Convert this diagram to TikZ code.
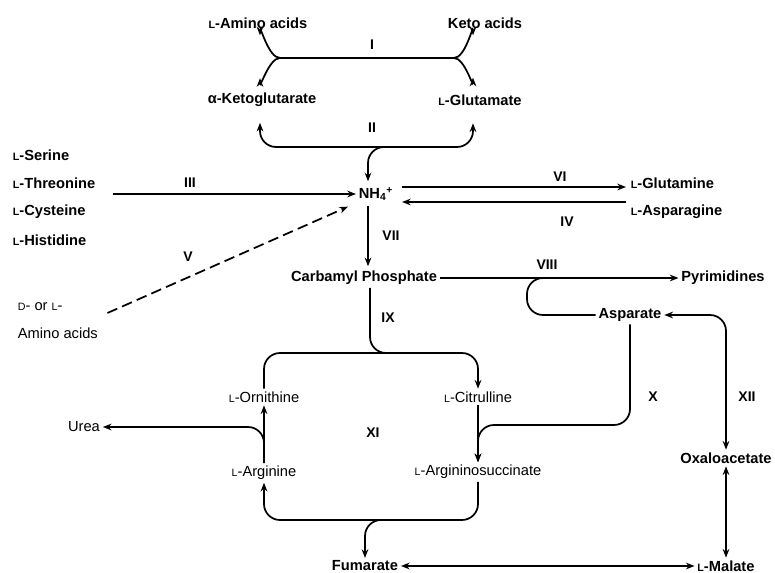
\documentclass[tikz,border=0pt]{standalone}
\usepackage{fontspec}
\setmainfont{Liberation Sans}
\usetikzlibrary{arrows.meta,calc}

\newcommand{\Ls}{{\fontsize{8}{8}\selectfont L}}
\newcommand{\Ds}{{\fontsize{8}{8}\selectfont D}}

\tikzset{
  cpd/.style={font=\bfseries\fontsize{11}{13}\selectfont, inner sep=2pt},
  cpdl/.style={font=\fontsize{11}{13}\selectfont, inner sep=2pt},
  enz/.style={font=\bfseries\fontsize{10.5}{12}\selectfont, inner sep=1pt},
  rxn/.style={line width=1.3pt},
  tip/.style={-{Stealth[length=6.5pt,width=5pt]}},
  tips/.style={{Stealth[length=6.5pt,width=5pt]}-{Stealth[length=6.5pt,width=5pt]}},
}

\begin{document}
\begin{tikzpicture}[x=0.75pt,y=0.75pt,yscale=-1,xscale=1]
\useasboundingbox (0,0) rectangle (775,573);

% Compounds
\node[cpd] (amino) at (258,23) {\Ls-Amino acids};
\node[cpd] (keto) at (485,23) {Keto acids};
\node[cpd] (akg) at (262,100) {α-Ketoglutarate};
\node[cpd] (glu) at (480,100) {\Ls-Glutamate};
\node[cpd,anchor=west] (ser) at (10,155) {\Ls-Serine};
\node[cpd,anchor=west] (thr) at (10,183) {\Ls-Threonine};
\node[cpd,anchor=west] (cys) at (10,212) {\Ls-Cysteine};
\node[cpd,anchor=west] (his) at (10,240) {\Ls-Histidine};
\node[cpd] (nh4) at (376,194) {NH\textsubscript{4}\textsuperscript{+}};
\node[cpd,anchor=west] (gln) at (628,183) {\Ls-Glutamine};
\node[cpd,anchor=west] (asn) at (628,212) {\Ls-Asparagine};
\node[cpd] (carb) at (364,278) {Carbamyl Phosphate};
\node[cpd] (pyr) at (723,278) {Pyrimidines};
\node[cpdl,anchor=west] (dl) at (15,307) {\Ds- or \Ls-};
\node[cpdl,anchor=west] (aa) at (15,333) {Amino acids};
\node[cpd] (asp) at (630,315) {Asparate};
\node[cpdl] (orn) at (264,397) {\Ls-Ornithine};
\node[cpdl] (cit) at (478,397) {\Ls-Citrulline};
\node[cpdl] (urea) at (84,427) {Urea};
\node[cpdl] (arg) at (264,473) {\Ls-Arginine};
\node[cpdl] (args) at (478,472) {\Ls-Argininosuccinate};
\node[cpd] (oxa) at (726,458) {Oxaloacetate};
\node[cpd] (fum) at (365,566) {Fumarate};
\node[cpd] (mal) at (726,566) {\Ls-Malate};

% Reaction numbers
\node[enz] (rI) at (372,45) {I};
\node[enz] (rII) at (372,128) {II};
\node[enz] (rIII) at (190,183) {III};
\node[enz] (rIV) at (567,222) {IV};
\node[enz] (rV) at (188,257) {V};
\node[enz] (rVI) at (560,177) {VI};
\node[enz] (rVII) at (391,236) {VII};
\node[enz] (rVIII) at (547,265) {VIII};
\node[enz] (rIX) at (388,318) {IX};
\node[enz] (rX) at (653,397) {X};
\node[enz] (rXI) at (373,433) {XI};
\node[enz] (rXII) at (747,397) {XII};

% Junctions
\coordinate (Iw) at (280,58);
\coordinate (Ie) at (454,58);
\coordinate (IIm) at (372,147);
\coordinate (ctop) at (370,353);
\coordinate (cbot) at (370,520);
\coordinate (xj) at (478,425);

% I
\draw[rxn,tips] ($(amino.south)+(2,4)$) to[out=-90,in=180] (Iw) -- (Ie) to[out=0,in=-90] ($(keto.south)+(-12,4)$);
\draw[rxn,tips] ($(akg.north)+(-2,-12)$) to[out=90,in=180] (Iw) -- (Ie) to[out=0,in=90] ($(glu.north)+(-7,-14)$);
% II
\draw[rxn,tips,rounded corners=12pt] ($(akg.south)+(-2,13)$) |- (IIm) -| ($(glu.south)+(-7,15)$);
\draw[rxn,tip,rounded corners=12pt] ($(IIm)+(16,0)$) -| ($(nh4.north)+(-8,-3)$);
% III, V
\draw[rxn,tip] ($(thr.east |- nh4.west)+(15,0)$) -- (nh4.west);
\draw[rxn,tip,dashed,dash pattern=on 8pt off 4pt] ($(dl.east)+(42,6)$) -- ($(nh4.south west)+(-8,3)$);
% VI, IV
\draw[rxn,tip] ($(nh4.east)+(6,-7)$) -- ($(gln.west)+(-2,4)$);
\draw[rxn,tip] ($(asn.west)+(-2,-10)$) -- ($(nh4.east)+(6,8)$);
% VII
\draw[rxn,tip] ($(nh4.south)+(-8,2)$) -- ($(nh4.south |- carb.north)+(-8,-2)$);
% VIII
\draw[rxn,tip] (carb.east) -- (pyr.west);
\draw[rxn,rounded corners=12pt] (asp.west) -| (527,278) -- (552,278);
% IX
\draw[rxn,rounded corners=12pt] ($(carb.south)+(6,0)$) |- ($(ctop)+(26,0)$);
\draw[rxn,tip,rounded corners=12pt] (orn.north) |- (ctop) -| (cit.north);
% Urea
\draw[rxn,tip] (arg.north) -- (orn.south);
\draw[rxn,tip,rounded corners=12pt] (arg.north) |- (urea.east);
% X
\draw[rxn,tip] (cit.south) -- (args.north);
\draw[rxn,tip,rounded corners=12pt] (asp.south) |- (xj) -- (args.north);
% XI
\draw[rxn,tip,rounded corners=12pt] (args.south) |- (cbot) -| (arg.south);
\draw[rxn,tip,rounded corners=12pt] ($(cbot)+(18,0)$) -| (fum.north);
% XII
\draw[rxn,tips,rounded corners=12pt] (asp.east) -| (oxa.north);
\draw[rxn,tips] (oxa.south) -- (mal.north);
\draw[rxn,tips] (fum.east) -- (mal.west);

\end{tikzpicture}
\end{document}
